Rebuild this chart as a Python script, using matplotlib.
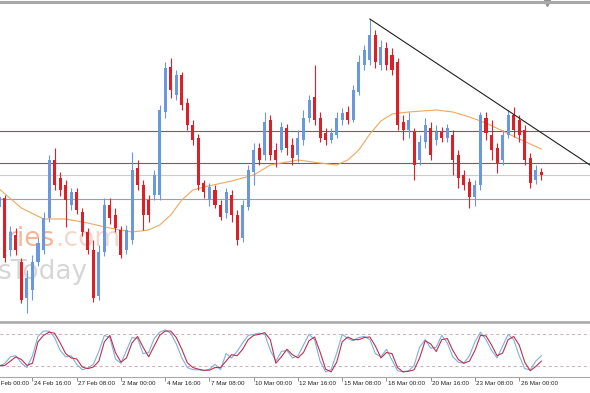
import numpy as np
import matplotlib
matplotlib.use("Agg")
import matplotlib.pyplot as plt
from matplotlib.transforms import blended_transform_factory

# OHLC per bar (8h bars)
opens = [193, 202, 150, 165, 138, 102, 110, 138, 150, 182, 240, 222, 215, 195, 208, 188, 168, 150, 104, 148,
         195, 185, 170, 150, 160, 232, 215, 200, 205, 205, 288, 333, 305, 325, 297, 275, 262, 217, 200, 210,
         195, 187, 205, 185, 162, 193, 228, 252, 245, 280, 250, 250, 272, 255, 245, 260, 282, 303, 282, 267,
         260, 265, 280, 288, 280, 308, 335, 340, 365, 335, 352, 345, 338, 278, 270, 268, 240, 258, 272, 260,
         268, 262, 265, 245, 225, 218, 203, 215, 282, 265, 252, 240, 265, 285, 280, 270, 242, 220, 228]
highs = [208, 205, 174, 172, 142, 130, 145, 162, 188, 245, 252, 228, 220, 212, 212, 192, 172, 160, 155, 202,
         202, 192, 174, 175, 248, 240, 220, 205, 230, 295, 338, 342, 330, 328, 302, 280, 266, 220, 217, 215,
         200, 212, 210, 190, 200, 235, 257, 257, 288, 285, 257, 278, 276, 262, 270, 290, 305, 335, 288, 272,
         272, 288, 292, 294, 315, 345, 355, 381, 370, 360, 358, 352, 342, 285, 288, 272, 265, 282, 278, 275,
         273, 276, 270, 250, 230, 222, 220, 288, 288, 280, 257, 270, 290, 293, 285, 275, 247, 235, 232]
lows = [190, 138, 144, 145, 97, 87, 100, 134, 146, 178, 210, 204, 173, 190, 186, 164, 146, 98, 100, 144,
        176, 168, 142, 146, 156, 210, 170, 178, 200, 200, 282, 302, 300, 290, 270, 255, 210, 202, 194, 192,
        180, 182, 178, 155, 158, 190, 215, 235, 240, 240, 233, 248, 245, 235, 238, 255, 278, 275, 258, 255,
        257, 262, 275, 276, 278, 305, 330, 335, 332, 330, 330, 325, 270, 260, 262, 220, 235, 252, 240, 255,
        258, 258, 225, 212, 210, 192, 194, 210, 260, 240, 227, 235, 262, 263, 258, 235, 212, 216, 220]
closes = [203, 142, 168, 150, 100, 122, 138, 157, 182, 240, 215, 210, 200, 208, 190, 168, 150, 102, 148, 195,
          182, 172, 145, 170, 230, 215, 185, 185, 225, 290, 332, 310, 325, 295, 275, 260, 215, 208, 213, 195,
          183, 208, 185, 160, 195, 230, 250, 240, 278, 245, 240, 273, 252, 242, 262, 282, 300, 280, 262, 260,
          267, 282, 287, 280, 310, 338, 350, 365, 338, 353, 335, 330, 275, 270, 280, 235, 258, 275, 245, 268,
          262, 272, 240, 222, 215, 203, 215, 285, 267, 250, 237, 265, 285, 270, 265, 240, 217, 230, 225]

# moving average, read at selected bars
ma_bars = [0, 4, 8, 12, 16, 20, 24, 27, 29, 31, 33, 35, 37, 42, 46, 49, 54, 58, 61, 63, 65, 67, 69, 71, 74,
           79, 82, 85, 88, 91, 94, 98]
ma_vals = [211, 192, 181, 181, 177, 172, 168, 170, 175, 185, 200, 210, 213, 219, 225, 235, 240, 237, 235, 240,
           250, 266, 279, 286, 288, 290, 288, 283, 277, 269, 261, 251]

# stochastic oscillator (%K blue, %D red)
stoch_k = [20, 26, 38, 40, 26, 18, 40, 76, 86, 86, 74, 50, 38, 40, 24, 14, 17, 24, 48, 78,
           74, 34, 26, 50, 74, 72, 44, 46, 72, 84, 88, 82, 62, 36, 18, 14, 14, 12, 15, 24,
           14, 44, 36, 48, 64, 78, 80, 82, 80, 50, 30, 48, 50, 36, 40, 60, 80, 70, 30, 10,
           14, 45, 80, 72, 68, 74, 76, 70, 44, 38, 52, 32, 12, 10, 12, 22, 56, 70, 54, 56,
           78, 64, 38, 28, 26, 40, 66, 84, 70, 50, 36, 58, 80, 70, 40, 16, 14, 30, 40]
stoch_d = [22, 22, 30, 38, 33, 22, 26, 66, 78, 84, 82, 64, 44, 36, 34, 19, 16, 19, 30, 66,
           78, 46, 28, 36, 64, 76, 56, 38, 58, 78, 86, 86, 74, 52, 27, 18, 15, 13, 13, 18,
           18, 30, 42, 40, 52, 70, 78, 80, 83, 70, 26, 38, 52, 42, 36, 46, 68, 75, 47, 15,
           10, 28, 66, 75, 70, 70, 74, 75, 58, 36, 46, 44, 18, 10, 11, 14, 36, 68, 62, 48,
           70, 72, 50, 33, 26, 30, 50, 78, 77, 60, 40, 45, 70, 76, 60, 28, 12, 20, 30]

levels = [269, 237, 225, 201]
level_colors = ["#b4405c", "#b4405c", "#cccccc", "#6cb8aa"]
trend_start = (67, 381)
trend_end = (106.8, 235)

tick_bars = [-1.6, 6, 14, 22, 30, 38, 46, 54, 62, 70, 78, 86, 94]
tick_labels = ["22 Feb 00:00", "24 Feb 16:00", "27 Feb 08:00", "2 Mar 00:00", "4 Mar 16:00", "7 Mar 08:00",
               "10 Mar 00:00", "12 Mar 16:00", "15 Mar 08:00", "18 Mar 00:00", "20 Mar 16:00",
               "23 Mar 08:00", "26 Mar 00:00"]

BLUE = "#6a98de"
RED = "#dd2027"
GRID = "#a8a8a8"

fig = plt.figure(figsize=(5.9, 3.93), dpi=100)
ax = fig.add_axes([0, 72 / 393, 1, 319 / 393])
ax2 = fig.add_axes([0, 16 / 393, 1, 55 / 393])

o = np.array(opens, float)
h = np.array(highs, float)
l = np.array(lows, float)
c = np.array(closes, float)
x = np.arange(len(o))
cols = np.where(c >= o, BLUE, RED)

for lv, lc in zip(levels, level_colors):
    ax.axhline(lv, color=lc, lw=0.8, zorder=1)

ax.vlines(x, l, h, colors=cols, lw=0.8, zorder=3)
ax.bar(x, np.maximum(np.abs(c - o), 0.8), bottom=np.minimum(o, c), width=0.55,
       color=cols, linewidth=0, zorder=3)
ax.plot(ma_bars, ma_vals, color="#f0a860", lw=0.8, zorder=2)
ax.plot([trend_start[0], trend_end[0]], [trend_start[1], trend_end[1]], color="#202020", lw=0.8, zorder=4)

# faint watermark, cut at the left edge like the original
wm = ax.text(0.012, 0.257, "ries", transform=ax.transAxes, fontsize=19, color="#f4b698",
             ha="left", va="center", zorder=0)
ax.annotate(".com", xy=(1, 0), xycoords=wm, fontsize=19, color="#f2d8cc",
            ha="left", va="bottom", zorder=0)
ax.text(-0.004, 0.155, "sToday", transform=ax.transAxes, fontsize=19, color="#d6d6d6",
        ha="left", va="center", zorder=0)

ax.set_xlim(0.13, 106.8)
ax.set_ylim(79, 398)
ax.set_xticks([])
ax.set_yticks([])
for s in ["left", "right", "bottom"]:
    ax.spines[s].set_visible(False)
ax.spines["top"].set_color(GRID)
ax.spines["top"].set_linewidth(2.2)
ax.plot([0.927], [0.996], marker="v", color="#909090", ms=4, transform=ax.transAxes, clip_on=False)

ax2.axhline(80, color="#d0aab4", lw=0.7, ls=(0, (3, 3)))
ax2.axhline(20, color="#d0aab4", lw=0.7, ls=(0, (3, 3)))
ax2.plot(x, stoch_k, color="#7fb0dc", lw=0.8)
ax2.plot(x, stoch_d, color="#c0304c", lw=0.8)
ax2.set_xlim(0.13, 106.8)
ax2.set_ylim(0.4, 102.9)
ax2.set_yticks([])
ax2.set_xticks(tick_bars[1:])
ax2.set_xticklabels([])
ax2.tick_params(axis="x", length=3, color="#808080", width=0.6)
for s in ["left", "right"]:
    ax2.spines[s].set_visible(False)
ax2.spines["top"].set_color(GRID)
ax2.spines["top"].set_linewidth(1.8)
ax2.spines["bottom"].set_color(GRID)
ax2.spines["bottom"].set_linewidth(0.8)

tr = blended_transform_factory(ax2.transData, ax2.transAxes)
for b, lab in zip(tick_bars, tick_labels):
    ax2.text(b + 0.25, -0.11, lab, transform=tr, fontsize=4.5, family="Liberation Sans",
             color="#202020", ha="left", va="center", clip_on=False)

fig.savefig("out.png", dpi=100)
